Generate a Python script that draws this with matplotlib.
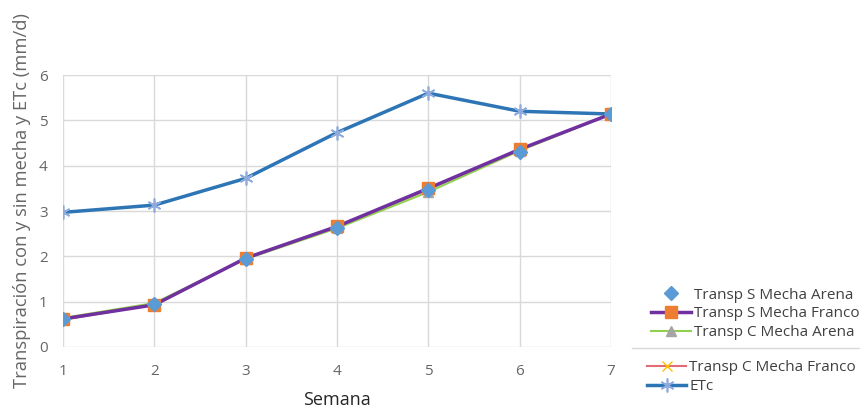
import matplotlib.pyplot as plt
from matplotlib.lines import Line2D

plt.rcParams['font.family'] = ['Open Sans', 'DejaVu Sans']

semana = [1, 2, 3, 4, 5, 6, 7]
s_arena = [0.62, 0.95, 1.95, 2.62, 3.47, 4.30, 5.14]
s_franco = [0.62, 0.93, 1.96, 2.66, 3.50, 4.36, 5.14]
c_arena = [0.64, 0.97, 1.94, 2.62, 3.42, 4.33, 5.14]
c_franco = [0.60, 0.94, 1.95, 2.64, 3.48, 4.35, 5.14]
etc = [2.97, 3.13, 3.72, 4.73, 5.60, 5.20, 5.14]

fig = plt.figure(figsize=(8.6, 4.09), dpi=100)
ax = fig.add_axes([0.0733, 0.1516, 0.6372, 0.665])

ax.plot(semana, etc, color='#2E75B6', lw=2.5, marker=(6, 2, 0), ms=10,
        mec='#8FAADC', mew=1.2, label='ETc', zorder=3)
ax.plot(semana, c_franco, color='#E06C75', lw=1.5, marker='x', ms=7,
        mec='#FFC000', label='Transp C Mecha Franco', zorder=4)
ax.plot(semana, c_arena, color='#92D050', lw=1.5, marker='^', ms=7,
        mfc='#A5A5A5', mec='#A5A5A5', label='Transp C Mecha Arena', zorder=4)
ax.plot(semana, s_franco, color='#7030A0', lw=2.5, marker='s', ms=9,
        mfc='#ED7D31', mec='#ED7D31', label='Transp S Mecha Franco', zorder=5)
ax.plot(semana, s_arena, ls='none', marker='D', ms=7,
        mfc='#5B9BD5', mec='#5B9BD5', label='Transp S Mecha Arena', zorder=6)

ax.set_xlim(1, 7)
ax.set_ylim(0, 6)
ax.set_xticks(semana)
ax.set_yticks(range(0, 7))
ax.grid(True, color='#D9D9D9', lw=1)
ax.set_axisbelow(True)
for s in ax.spines.values():
    s.set_visible(False)
ax.tick_params(length=0, labelsize=11, colors='#666666', pad=12)
ax.tick_params(axis='y', pad=11)
ax.set_xlabel('Semana', fontsize=13, color='#262626', labelpad=9)
ax.set_ylabel('Transpiración con y sin mecha y ETc (mm/d)', fontsize=13.2,
              color='#666666')
ax.yaxis.set_label_coords(-0.058, 0.537)

h, l = ax.get_legend_handles_labels()
kw = dict(frameon=False, fontsize=11, labelcolor='#404040',
          handletextpad=0.2, labelspacing=0.25,
          borderpad=0, borderaxespad=0)
leg1 = fig.legend([h[4], h[3], h[2]], [l[4], l[3], l[2]],
                  loc='upper left', bbox_to_anchor=(0.757, 0.297),
                  handlelength=2.6, **kw)
leg2 = fig.legend([h[1], h[0]], [l[1], l[0]],
                  loc='upper left', bbox_to_anchor=(0.752, 0.119),
                  handlelength=2.6, **kw)

# thin separator seen between legend rows
fig.add_artist(Line2D([0.735, 1.0], [0.149, 0.149], color='#D9D9D9', lw=1))

fig.savefig('out.png', dpi=100)
